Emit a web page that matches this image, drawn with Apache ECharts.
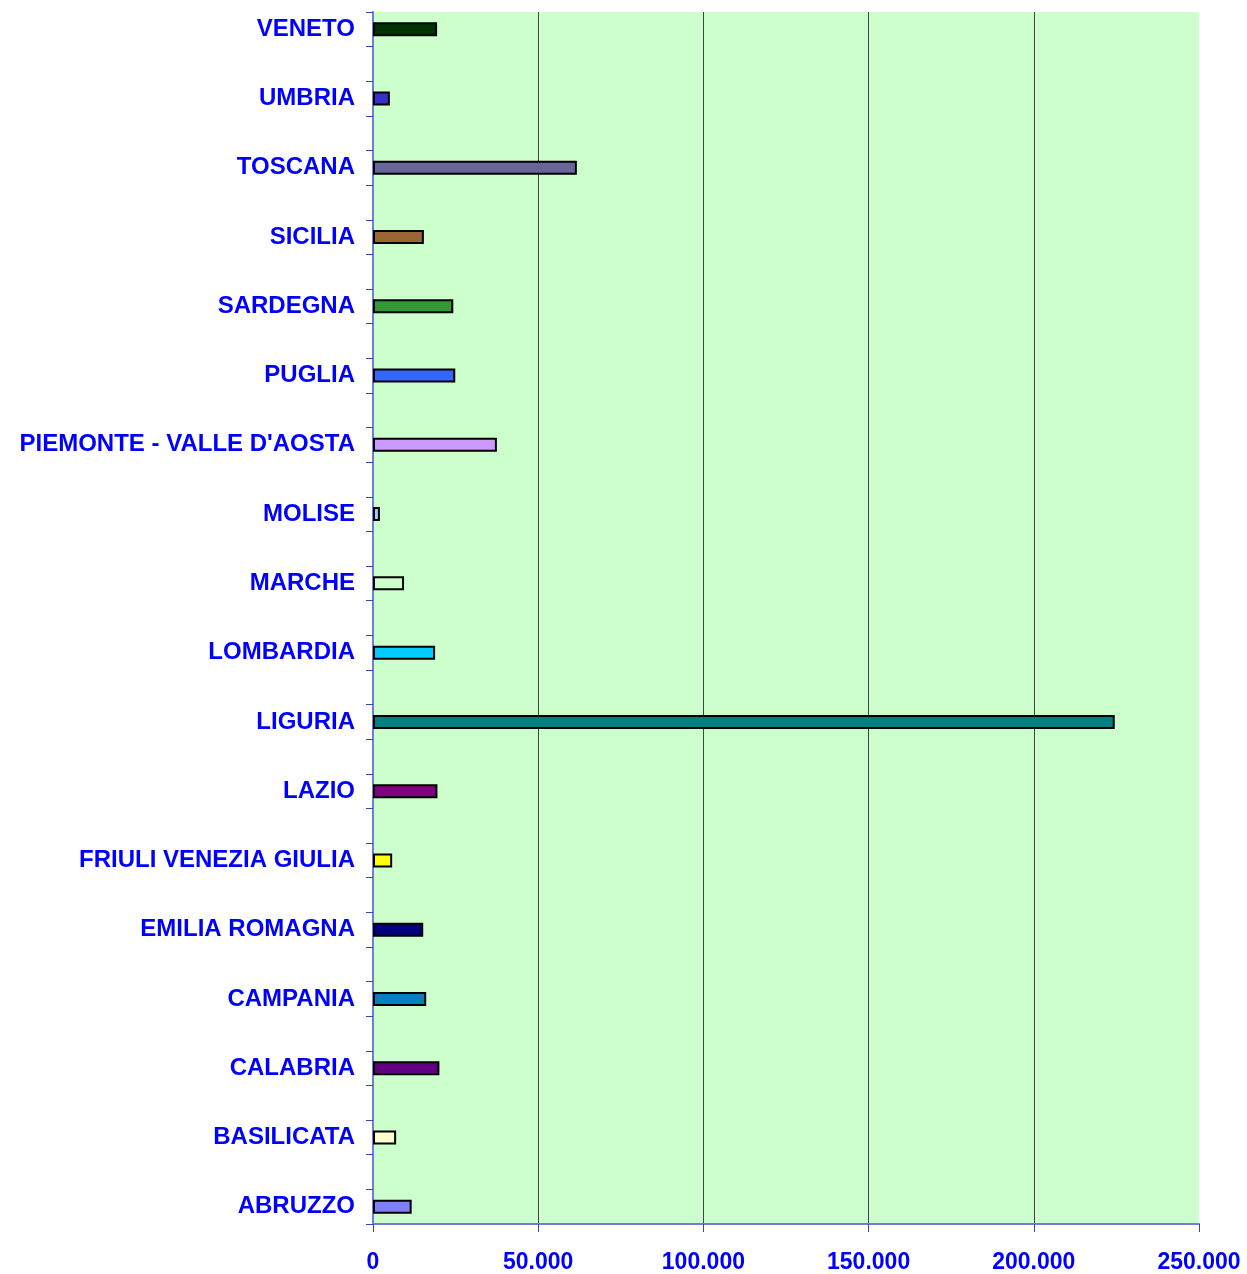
<!DOCTYPE html>
<html>
<head>
<meta charset="utf-8">
<script src="https://cdn.jsdelivr.net/npm/echarts@6/dist/echarts.min.js"></script>
<style>html,body{margin:0;padding:0;background:#fff}#c{width:1247px;height:1274px}</style>
</head>
<body>
<div id="c"></div>
<script>
const categories = ["ABRUZZO","BASILICATA","CALABRIA","CAMPANIA","EMILIA ROMAGNA","FRIULI VENEZIA GIULIA","LAZIO","LIGURIA","LOMBARDIA","MARCHE","MOLISE","PIEMONTE - VALLE D'AOSTA","PUGLIA","SARDEGNA","SICILIA","TOSCANA","UMBRIA","VENETO"];
const values = [11700, 7000, 20100, 16100, 15200, 5800, 19500, 224500, 18800, 9400, 2100, 37500, 24900, 24300, 15400, 61700, 5100, 19400];
const barColors = ["#8080FF","#FFFFCC","#600080","#0080C0","#000080","#FFFF00","#800080","#008080","#00CCFF","#CCFFCC","#99CCFF","#CC99FF","#3366FF","#339933","#996633","#666699","#3333CC","#003300"];
const xTicks = [0, 50000, 100000, 150000, 200000, 250000];

const fmt = v => String(v).replace(/\B(?=(\d{3})+(?!\d))/g, '.');

// Each region occupies one slot, with an empty spacer slot between neighbours
const axisData = [];
const seriesData = [];
categories.forEach((c, i) => {
  if (i > 0) { axisData.push(''); seriesData.push('-'); }
  axisData.push(c);
  seriesData.push({value: values[i], itemStyle: {color: barColors[i]}});
});

const chart = echarts.init(document.getElementById('c'), null, {renderer: 'canvas'});
chart.setOption({
  animation: false,
  backgroundColor: '#ffffff',
  grid: {left: 373, right: 48, top: 12, bottom: 49, show: true, backgroundColor: '#CCFFCC', borderWidth: 0},
  xAxis: {
    type: 'value', min: xTicks[0], max: xTicks[xTicks.length - 1], interval: 50000,
    axisLine: {show: true, lineStyle: {color: '#6f7fd6', width: 2}},
    axisTick: {show: true, length: 8, lineStyle: {color: '#3344cc', width: 1}},
    axisLabel: {color: '#0000FF', fontSize: 23, fontWeight: 'bold', fontFamily: 'Liberation Sans, Arial, sans-serif', margin: 27, formatter: v => fmt(v)},
    splitLine: {show: true, showMinLine: false, showMaxLine: false, lineStyle: {color: '#444444', width: 1}}
  },
  yAxis: {
    type: 'category', data: axisData,
    axisLine: {show: true, lineStyle: {color: '#6f7fd6', width: 2}},
    axisTick: {show: true, length: 7, interval: 0, lineStyle: {color: '#3344cc', width: 1}},
    axisLabel: {color: '#0000FF', fontSize: 24, fontWeight: 'bold', fontFamily: 'Liberation Sans, Arial, sans-serif', margin: 18, interval: 0, padding: [3, 0, 0, 0]},
    splitLine: {show: false}
  },
  series: [{
    type: 'bar',
    barWidth: 14,
    data: seriesData,
    itemStyle: {borderColor: '#000000', borderWidth: 2}
  }]
});
</script>
</body>
</html>
